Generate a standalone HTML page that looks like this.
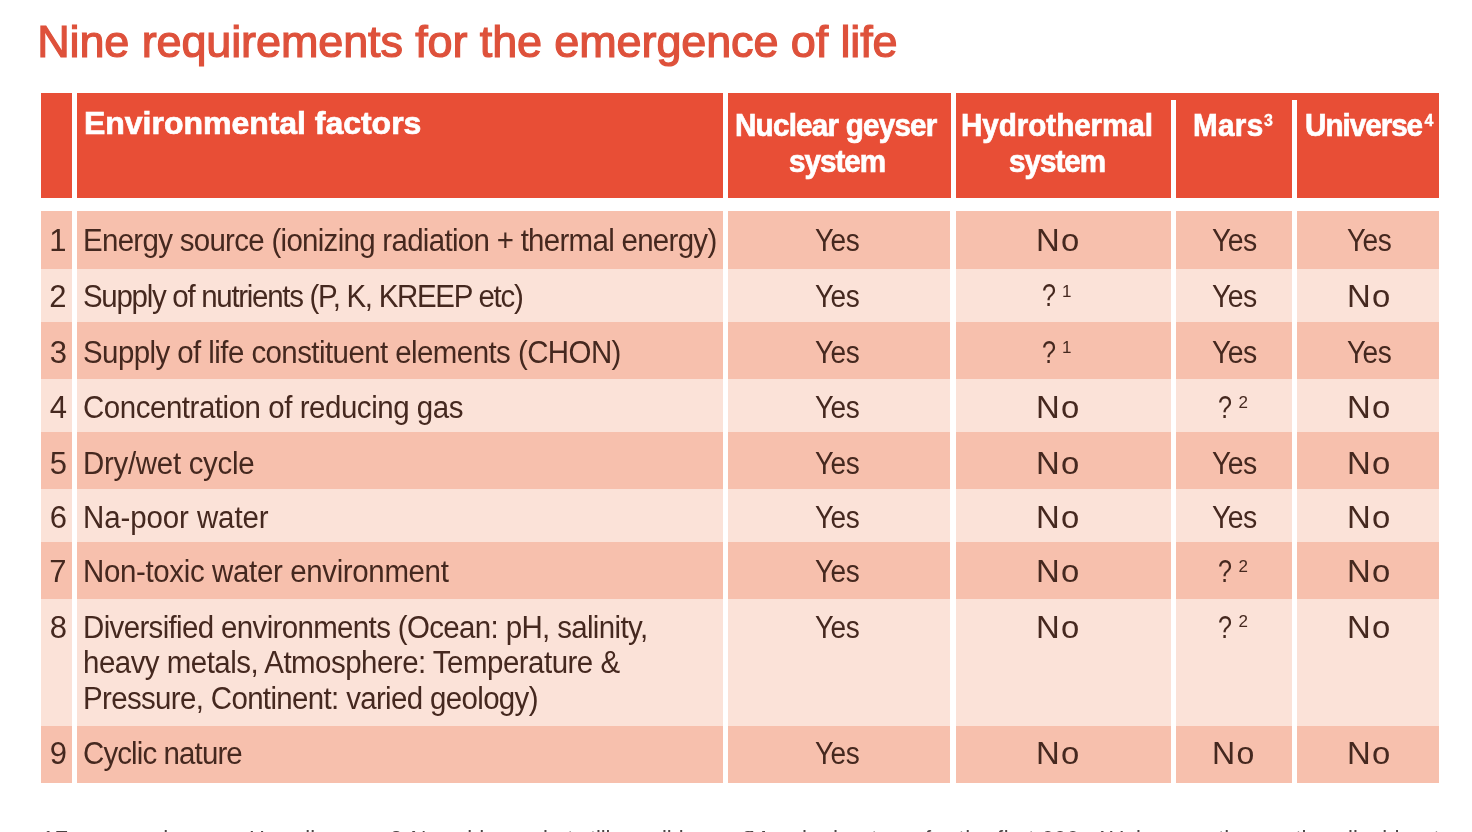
<!DOCTYPE html>
<html lang="en">
<head>
<meta charset="utf-8">
<title>Nine requirements for the emergence of life</title>
<style>
html,body{margin:0;padding:0;background:#fff;}
body{width:1472px;height:832px;overflow:hidden;position:relative;font-family:"Liberation Sans",sans-serif;}
#w{position:absolute;left:0;top:0;width:1472px;height:832px;filter:blur(0.45px);}
.r{position:absolute;}
.t{position:absolute;white-space:nowrap;line-height:1;margin:0;padding:0;font-weight:400;transform-origin:0 0;}
.hd{background:#e84e36;} .sep{background:#fff;} .dk{background:#f7c0ad;} .lt{background:#fbe2d8;}
.title{font-size:45px;color:#de513b;-webkit-text-stroke:1.2px #de513b;}
.th{font-size:31.5px;font-weight:700;color:#fff;-webkit-text-stroke:0.7px #fff;}
.hs{font-size:16px;font-weight:700;color:#fff;-webkit-text-stroke:0.3px #fff;}
.td{color:#45281f;} .sup{color:#45281f;} .fn{color:#4a4444;}
.th1{font-size:32px;}
.td{font-size:31px;} .q{font-size:30.5px;} .sup{font-size:17px;} .fn{font-size:22px;}
</style>
</head>
<body>
<div id="w">
<h1 class="t title" style="left:37.2px;top:18.51px;letter-spacing:-0.119px;">Nine requirements for the emergence of life</h1>
<div class="table">
<div class="thead">
<div class="r hd" style="left:41px;top:93px;width:1398px;height:105px"></div>
<div class="r sep" style="left:72px;top:93px;width:5px;height:105px"></div>
<div class="r sep" style="left:723px;top:93px;width:5px;height:105px"></div>
<div class="r sep" style="left:950.5px;top:93px;width:5px;height:105px"></div>
<div class="r sep" style="left:1171px;top:100px;width:5px;height:98px"></div>
<div class="r sep" style="left:1292px;top:100px;width:5px;height:98px"></div>
<span class="t th th1" style="left:84px;top:107.41px;letter-spacing:-0.025px;">Environmental factors</span>
<span class="t th" style="left:735px;top:109.84px;letter-spacing:-0.818px;transform:scaleX(0.9400);">Nuclear geyser</span>
<span class="t th" style="left:789px;top:146.34px;letter-spacing:-1.064px;transform:scaleX(0.9400);">system</span>
<span class="t th" style="left:961px;top:109.84px;letter-spacing:-0.048px;transform:scaleX(0.9400);">Hydrothermal</span>
<span class="t th" style="left:1009px;top:146.34px;letter-spacing:-1.064px;transform:scaleX(0.9400);">system</span>
<span class="t th" style="left:1193px;top:109.84px;letter-spacing:0.355px;transform:scaleX(0.9400);">Mars</span>
<span class="t hs" style="left:1264px;top:112.76px;">3</span>
<span class="t th" style="left:1305px;top:109.84px;letter-spacing:-1.064px;transform:scaleX(0.9400);">Universe</span>
<span class="t hs" style="left:1424.5px;top:112.76px;">4</span>
</div>
<div class="tbody">
<div class="row">
<div class="r dk" style="left:41px;top:211px;width:31px;height:57.5px"></div>
<div class="r dk" style="left:77px;top:211px;width:646px;height:57.5px"></div>
<div class="r dk" style="left:728px;top:211px;width:222px;height:57.5px"></div>
<div class="r dk" style="left:955.5px;top:211px;width:215px;height:57.5px"></div>
<div class="r dk" style="left:1176px;top:211px;width:115.5px;height:57.5px"></div>
<div class="r dk" style="left:1297px;top:211px;width:142px;height:57.5px"></div>
<span class="t td" style="left:49.25px;top:225.46px;">1</span>
<span class="t td" style="left:83px;top:225.46px;letter-spacing:-0.726px;transform:scaleX(0.9500);">Energy source (ionizing radiation + thermal energy)</span>
<span class="t td" style="left:815px;top:225.46px;letter-spacing:-0.600px;transform:scaleX(0.9044);">Yes</span>
<span class="t td" style="left:1036.2px;top:225.46px;letter-spacing:1.200px;transform:scaleX(1.0598);">No</span>
<span class="t td" style="left:1212px;top:225.46px;letter-spacing:-0.600px;transform:scaleX(0.9172);">Yes</span>
<span class="t td" style="left:1347px;top:225.46px;letter-spacing:-0.600px;transform:scaleX(0.9066);">Yes</span>
</div>
<div class="row">
<div class="r lt" style="left:41px;top:268.5px;width:31px;height:53.9px"></div>
<div class="r lt" style="left:77px;top:268.5px;width:646px;height:53.9px"></div>
<div class="r lt" style="left:728px;top:268.5px;width:222px;height:53.9px"></div>
<div class="r lt" style="left:955.5px;top:268.5px;width:215px;height:53.9px"></div>
<div class="r lt" style="left:1176px;top:268.5px;width:115.5px;height:53.9px"></div>
<div class="r lt" style="left:1297px;top:268.5px;width:142px;height:53.9px"></div>
<span class="t td" style="left:49.25px;top:281.16px;">2</span>
<span class="t td" style="left:83px;top:281.16px;letter-spacing:-1.345px;transform:scaleX(0.9500);">Supply of nutrients (P, K, KREEP etc)</span>
<span class="t td" style="left:815px;top:281.16px;letter-spacing:-0.600px;transform:scaleX(0.9044);">Yes</span>
<span class="t td q" style="left:1042px;top:280.48px;transform:scaleX(0.8255);">?</span>
<span class="t sup" style="left:1062px;top:282.81px;">1</span>
<span class="t td" style="left:1212px;top:281.16px;letter-spacing:-0.600px;transform:scaleX(0.9172);">Yes</span>
<span class="t td" style="left:1347.4px;top:281.16px;letter-spacing:1.200px;transform:scaleX(1.0598);">No</span>
</div>
<div class="row">
<div class="r dk" style="left:41px;top:322.4px;width:31px;height:56.6px"></div>
<div class="r dk" style="left:77px;top:322.4px;width:646px;height:56.6px"></div>
<div class="r dk" style="left:728px;top:322.4px;width:222px;height:56.6px"></div>
<div class="r dk" style="left:955.5px;top:322.4px;width:215px;height:56.6px"></div>
<div class="r dk" style="left:1176px;top:322.4px;width:115.5px;height:56.6px"></div>
<div class="r dk" style="left:1297px;top:322.4px;width:142px;height:56.6px"></div>
<span class="t td" style="left:49.75px;top:337.26px;">3</span>
<span class="t td" style="left:83px;top:337.26px;letter-spacing:-0.591px;transform:scaleX(0.9500);">Supply of life constituent elements (CHON)</span>
<span class="t td" style="left:815px;top:337.26px;letter-spacing:-0.600px;transform:scaleX(0.9044);">Yes</span>
<span class="t td q" style="left:1042px;top:336.58px;transform:scaleX(0.8255);">?</span>
<span class="t sup" style="left:1062px;top:338.91px;">1</span>
<span class="t td" style="left:1212px;top:337.26px;letter-spacing:-0.600px;transform:scaleX(0.9172);">Yes</span>
<span class="t td" style="left:1347px;top:337.26px;letter-spacing:-0.600px;transform:scaleX(0.9066);">Yes</span>
</div>
<div class="row">
<div class="r lt" style="left:41px;top:379px;width:31px;height:52.6px"></div>
<div class="r lt" style="left:77px;top:379px;width:646px;height:52.6px"></div>
<div class="r lt" style="left:728px;top:379px;width:222px;height:52.6px"></div>
<div class="r lt" style="left:955.5px;top:379px;width:215px;height:52.6px"></div>
<div class="r lt" style="left:1176px;top:379px;width:115.5px;height:52.6px"></div>
<div class="r lt" style="left:1297px;top:379px;width:142px;height:52.6px"></div>
<span class="t td" style="left:49.75px;top:392.36px;">4</span>
<span class="t td" style="left:83px;top:392.36px;letter-spacing:-0.470px;transform:scaleX(0.9500);">Concentration of reducing gas</span>
<span class="t td" style="left:815px;top:392.36px;letter-spacing:-0.600px;transform:scaleX(0.9044);">Yes</span>
<span class="t td" style="left:1036.2px;top:392.36px;letter-spacing:1.200px;transform:scaleX(1.0598);">No</span>
<span class="t td q" style="left:1218px;top:391.68px;transform:scaleX(0.8255);">?</span>
<span class="t sup" style="left:1238.5px;top:394.01px;">2</span>
<span class="t td" style="left:1347.4px;top:392.36px;letter-spacing:1.200px;transform:scaleX(1.0598);">No</span>
</div>
<div class="row">
<div class="r dk" style="left:41px;top:431.6px;width:31px;height:57.4px"></div>
<div class="r dk" style="left:77px;top:431.6px;width:646px;height:57.4px"></div>
<div class="r dk" style="left:728px;top:431.6px;width:222px;height:57.4px"></div>
<div class="r dk" style="left:955.5px;top:431.6px;width:215px;height:57.4px"></div>
<div class="r dk" style="left:1176px;top:431.6px;width:115.5px;height:57.4px"></div>
<div class="r dk" style="left:1297px;top:431.6px;width:142px;height:57.4px"></div>
<span class="t td" style="left:49.75px;top:447.76px;">5</span>
<span class="t td" style="left:83px;top:447.76px;letter-spacing:-0.307px;transform:scaleX(0.9500);">Dry/wet cycle</span>
<span class="t td" style="left:815px;top:447.76px;letter-spacing:-0.600px;transform:scaleX(0.9044);">Yes</span>
<span class="t td" style="left:1036.2px;top:447.76px;letter-spacing:1.200px;transform:scaleX(1.0598);">No</span>
<span class="t td" style="left:1212px;top:447.76px;letter-spacing:-0.600px;transform:scaleX(0.9172);">Yes</span>
<span class="t td" style="left:1347.4px;top:447.76px;letter-spacing:1.200px;transform:scaleX(1.0598);">No</span>
</div>
<div class="row">
<div class="r lt" style="left:41px;top:489px;width:31px;height:52.8px"></div>
<div class="r lt" style="left:77px;top:489px;width:646px;height:52.8px"></div>
<div class="r lt" style="left:728px;top:489px;width:222px;height:52.8px"></div>
<div class="r lt" style="left:955.5px;top:489px;width:215px;height:52.8px"></div>
<div class="r lt" style="left:1176px;top:489px;width:115.5px;height:52.8px"></div>
<div class="r lt" style="left:1297px;top:489px;width:142px;height:52.8px"></div>
<span class="t td" style="left:49.75px;top:502.36px;">6</span>
<span class="t td" style="left:83px;top:502.36px;letter-spacing:-0.088px;transform:scaleX(0.9500);">Na-poor water</span>
<span class="t td" style="left:815px;top:502.36px;letter-spacing:-0.600px;transform:scaleX(0.9044);">Yes</span>
<span class="t td" style="left:1036.2px;top:502.36px;letter-spacing:1.200px;transform:scaleX(1.0598);">No</span>
<span class="t td" style="left:1212px;top:502.36px;letter-spacing:-0.600px;transform:scaleX(0.9172);">Yes</span>
<span class="t td" style="left:1347.4px;top:502.36px;letter-spacing:1.200px;transform:scaleX(1.0598);">No</span>
</div>
<div class="row">
<div class="r dk" style="left:41px;top:541.8px;width:31px;height:57.2px"></div>
<div class="r dk" style="left:77px;top:541.8px;width:646px;height:57.2px"></div>
<div class="r dk" style="left:728px;top:541.8px;width:222px;height:57.2px"></div>
<div class="r dk" style="left:955.5px;top:541.8px;width:215px;height:57.2px"></div>
<div class="r dk" style="left:1176px;top:541.8px;width:115.5px;height:57.2px"></div>
<div class="r dk" style="left:1297px;top:541.8px;width:142px;height:57.2px"></div>
<span class="t td" style="left:49.25px;top:556.46px;">7</span>
<span class="t td" style="left:83px;top:556.46px;letter-spacing:-0.364px;transform:scaleX(0.9500);">Non-toxic water environment</span>
<span class="t td" style="left:815px;top:556.46px;letter-spacing:-0.600px;transform:scaleX(0.9044);">Yes</span>
<span class="t td" style="left:1036.2px;top:556.46px;letter-spacing:1.200px;transform:scaleX(1.0598);">No</span>
<span class="t td q" style="left:1218px;top:556.48px;transform:scaleX(0.8255);">?</span>
<span class="t sup" style="left:1238.5px;top:558.11px;">2</span>
<span class="t td" style="left:1347.4px;top:556.46px;letter-spacing:1.200px;transform:scaleX(1.0598);">No</span>
</div>
<div class="row">
<div class="r lt" style="left:41px;top:599px;width:31px;height:127px"></div>
<div class="r lt" style="left:77px;top:599px;width:646px;height:127px"></div>
<div class="r lt" style="left:728px;top:599px;width:222px;height:127px"></div>
<div class="r lt" style="left:955.5px;top:599px;width:215px;height:127px"></div>
<div class="r lt" style="left:1176px;top:599px;width:115.5px;height:127px"></div>
<div class="r lt" style="left:1297px;top:599px;width:142px;height:127px"></div>
<span class="t td" style="left:49.75px;top:611.56px;">8</span>
<span class="t td" style="left:83px;top:611.56px;letter-spacing:-0.667px;transform:scaleX(0.9500);">Diversified environments (Ocean: pH, salinity,</span>
<span class="t td" style="left:83px;top:646.56px;letter-spacing:-0.526px;transform:scaleX(0.9500);">heavy metals, Atmosphere: Temperature &amp;</span>
<span class="t td" style="left:83px;top:682.56px;letter-spacing:-0.677px;transform:scaleX(0.9500);">Pressure, Continent: varied geology)</span>
<span class="t td" style="left:815px;top:611.56px;letter-spacing:-0.600px;transform:scaleX(0.9044);">Yes</span>
<span class="t td" style="left:1036.2px;top:611.56px;letter-spacing:1.200px;transform:scaleX(1.0598);">No</span>
<span class="t td q" style="left:1218px;top:611.58px;transform:scaleX(0.8255);">?</span>
<span class="t sup" style="left:1238.5px;top:613.21px;">2</span>
<span class="t td" style="left:1347.4px;top:611.56px;letter-spacing:1.200px;transform:scaleX(1.0598);">No</span>
</div>
<div class="row">
<div class="r dk" style="left:41px;top:726px;width:31px;height:57px"></div>
<div class="r dk" style="left:77px;top:726px;width:646px;height:57px"></div>
<div class="r dk" style="left:728px;top:726px;width:222px;height:57px"></div>
<div class="r dk" style="left:955.5px;top:726px;width:215px;height:57px"></div>
<div class="r dk" style="left:1176px;top:726px;width:115.5px;height:57px"></div>
<div class="r dk" style="left:1297px;top:726px;width:142px;height:57px"></div>
<span class="t td" style="left:49.75px;top:738.06px;">9</span>
<span class="t td" style="left:83px;top:738.06px;letter-spacing:-0.921px;transform:scaleX(0.9500);">Cyclic nature</span>
<span class="t td" style="left:815px;top:738.06px;letter-spacing:-0.600px;transform:scaleX(0.9044);">Yes</span>
<span class="t td" style="left:1036.2px;top:738.06px;letter-spacing:1.200px;transform:scaleX(1.0598);">No</span>
<span class="t td" style="left:1212px;top:738.06px;letter-spacing:1.200px;transform:scaleX(1.0341);">No</span>
<span class="t td" style="left:1347.4px;top:738.06px;letter-spacing:1.200px;transform:scaleX(1.0598);">No</span>
</div>
</div>
</div>
<div class="footnotes">
<span class="t fn" style="left:42px;top:827.58px;">1</span>
<span class="t fn" style="left:54.5px;top:827.58px;">Few cases</span>
<span class="t fn" style="left:129px;top:827.58px;">such as</span>
<span class="t fn" style="left:249px;top:827.58px;">Hawaii</span>
<span class="t fn" style="left:390px;top:827.58px;">2</span>
<span class="t fn" style="left:410.5px;top:827.58px;letter-spacing:-0.150px;">No evidence, but still possible</span>
<span class="t fn" style="left:742px;top:827.58px;">3</span>
<span class="t fn" style="left:748.5px;top:827.58px;letter-spacing:-0.300px;">Mars had water</span>
<span class="t fn" style="left:925px;top:827.58px;letter-spacing:0.450px;">for the first 600my</span>
<span class="t fn" style="left:1094px;top:827.58px;">4</span>
<span class="t fn" style="left:1108.5px;top:827.58px;letter-spacing:-0.300px;">Universe</span>
<span class="t fn" style="left:1206px;top:827.58px;">other</span>
<span class="t fn" style="left:1295.5px;top:827.58px;">than</span>
<span class="t fn" style="left:1348px;top:827.58px;">liquid water</span>
</div>
</div>
</body>
</html>
